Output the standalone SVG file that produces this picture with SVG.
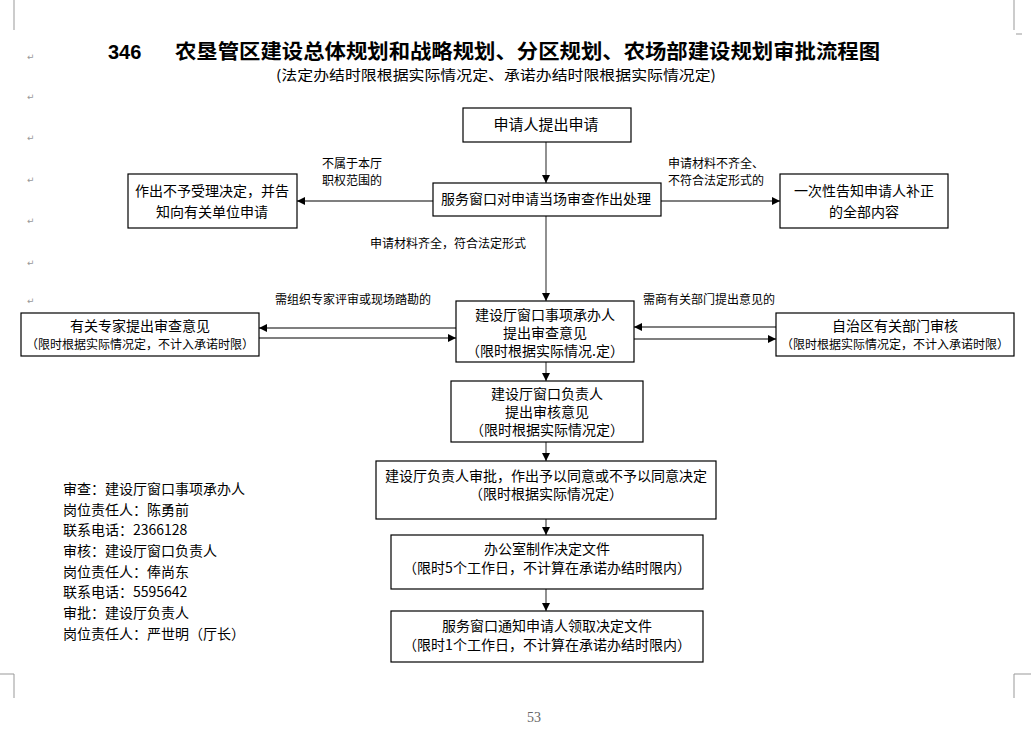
<svg xmlns="http://www.w3.org/2000/svg" width="1031" height="733" viewBox="0 0 1031 733">
<defs>
<marker id="ah" viewBox="0 0 10 10" refX="10" refY="5" markerWidth="9" markerHeight="8" markerUnits="userSpaceOnUse" orient="auto">
<path d="M0,0 L10,5 L0,10 z" fill="#000"/>
</marker>
<style>
text{font-family:"Noto Sans CJK SC","Liberation Sans",sans-serif;fill:#000}
.box{fill:#fff;stroke:#000;stroke-width:1.2}
.t{font-size:14px;text-anchor:middle}
.s{font-size:12px;text-anchor:middle}
.l{font-size:12px}
.info{font-size:14px}
.pm{fill:#999;font-size:9px;font-family:"DejaVu Sans",sans-serif}
.ln{stroke:#555;stroke-width:1.3;fill:none;marker-end:url(#ah)}
.crop{stroke:#999;stroke-width:1;fill:none}
</style>
</defs>
<rect width="1031" height="733" fill="#fff"/>
<g id="page-marks">
<path class="crop" d="M14,0 V30 M1014,0 V30 M1016,34 H1022 M0,674 H14 V698 M1031,674 H1014 V698"/>
<text class="pm" x="27" y="60">↵</text>
<text class="pm" x="27" y="100">↵</text>
<text class="pm" x="27" y="141">↵</text>
<text class="pm" x="27" y="183">↵</text>
<text class="pm" x="27" y="224">↵</text>
<text class="pm" x="27" y="266">↵</text>
<text class="pm" x="27" y="304">↵</text>
</g>
<g id="title">
<text x="108" y="59" style="font-size:20px;font-weight:bold;font-family:'Liberation Sans',sans-serif">346</text>
<text x="175" y="59" style="font-size:20px;font-weight:bold" textLength="705" lengthAdjust="spacingAndGlyphs">农垦管区建设总体规划和战略规划、分区规划、农场部建设规划审批流程图</text>
<text x="276" y="80" style="font-size:14px" textLength="440" lengthAdjust="spacingAndGlyphs">(法定办结时限根据实际情况定、承诺办结时限根据实际情况定)</text>
</g>
<g id="connectors">
<line class="ln" x1="546" y1="142" x2="546" y2="183"/>
<line class="ln" x1="546" y1="216" x2="546" y2="301"/>
<line class="ln" x1="546" y1="362" x2="546" y2="381"/>
<line class="ln" x1="546" y1="442" x2="546" y2="461"/>
<line class="ln" x1="546" y1="519" x2="546" y2="535"/>
<line class="ln" x1="546" y1="589" x2="546" y2="611"/>
<line class="ln" x1="433" y1="201" x2="297" y2="201"/>
<line class="ln" x1="661" y1="201" x2="780" y2="201"/>
<line class="ln" x1="456" y1="328" x2="259" y2="328"/>
<line class="ln" x1="259" y1="338" x2="456" y2="338"/>
<line class="ln" x1="776" y1="327" x2="634" y2="327"/>
<line class="ln" x1="634" y1="339" x2="776" y2="339"/>
<text class="l" x="322" y="168">不属于本厅</text>
<text class="l" x="322" y="185">职权范围的</text>
<text class="l" x="668" y="168">申请材料不齐全、</text>
<text class="l" x="668" y="185">不符合法定形式的</text>
<text class="l" x="370" y="248">申请材料齐全，符合法定形式</text>
<text class="l" x="275" y="304">需组织专家评审或现场踏勘的</text>
<text class="l" x="643" y="304">需商有关部门提出意见的</text>
</g>
<g id="n-apply">
<rect class="box" x="463" y="108" width="168" height="34"/>
<text class="t" x="546" y="130" style="font-size:15px">申请人提出申请</text>
</g>
<g id="n-window">
<rect class="box" x="433" y="183" width="228" height="33"/>
<text class="t" x="546" y="204">服务窗口对申请当场审查作出处理</text>
</g>
<g id="n-reject">
<rect class="box" x="128" y="174" width="169" height="54"/>
<text class="t" x="212" y="196">作出不予受理决定，并告</text>
<text class="t" x="212" y="217">知向有关单位申请</text>
</g>
<g id="n-supplement">
<rect class="box" x="780" y="174" width="168" height="54"/>
<text class="t" x="864" y="196">一次性告知申请人补正</text>
<text class="t" x="864" y="217">的全部内容</text>
</g>
<g id="n-handler">
<rect class="box" x="456" y="301" width="178" height="61"/>
<text class="t" x="545" y="320">建设厅窗口事项承办人</text>
<text class="t" x="545" y="338">提出审查意见</text>
<text class="t" x="545" y="356">（限时根据实际情况.定）</text>
</g>
<g id="n-expert">
<rect class="box" x="21" y="313" width="238" height="43"/>
<text class="t" x="140" y="331">有关专家提出审查意见</text>
<text class="s" x="140" y="349">（限时根据实际情况定，不计入承诺时限）</text>
</g>
<g id="n-dept">
<rect class="box" x="776" y="313" width="238" height="43"/>
<text class="t" x="895" y="331">自治区有关部门审核</text>
<text class="s" x="895" y="349">（限时根据实际情况定，不计入承诺时限）</text>
</g>
<g id="n-chief">
<rect class="box" x="451" y="381" width="192" height="61"/>
<text class="t" x="547" y="399">建设厅窗口负责人</text>
<text class="t" x="547" y="417">提出审核意见</text>
<text class="t" x="547" y="435">（限时根据实际情况定）</text>
</g>
<g id="n-approve">
<rect class="box" x="376" y="461" width="340" height="58"/>
<text class="t" x="546" y="481">建设厅负责人审批，作出予以同意或不予以同意决定</text>
<text class="t" x="546" y="499">（限时根据实际情况定）</text>
</g>
<g id="n-office">
<rect class="box" x="391" y="535" width="312" height="54"/>
<text class="t" x="547" y="554">办公室制作决定文件</text>
<text class="t" x="547" y="573">（限时5个工作日，不计算在承诺办结时限内）</text>
</g>
<g id="n-notify">
<rect class="box" x="391" y="611" width="312" height="51"/>
<text class="t" x="547" y="631">服务窗口通知申请人领取决定文件</text>
<text class="t" x="547" y="650">（限时1个工作日，不计算在承诺办结时限内）</text>
</g>
<g id="info">
<text class="info" x="63" y="494">审查：建设厅窗口事项承办人</text>
<text class="info" x="63" y="515">岗位责任人：陈勇前</text>
<text class="info" x="63" y="535">联系电话：2366128</text>
<text class="info" x="63" y="556">审核：建设厅窗口负责人</text>
<text class="info" x="63" y="577">岗位责任人：俸尚东</text>
<text class="info" x="63" y="597">联系电话：5595642</text>
<text class="info" x="63" y="618">审批：建设厅负责人</text>
<text class="info" x="63" y="639">岗位责任人：严世明（厅长）</text>
</g>
<text x="527" y="722" style="font-size:14px;font-family:'Liberation Serif',serif;fill:#666">53</text>
</svg>
